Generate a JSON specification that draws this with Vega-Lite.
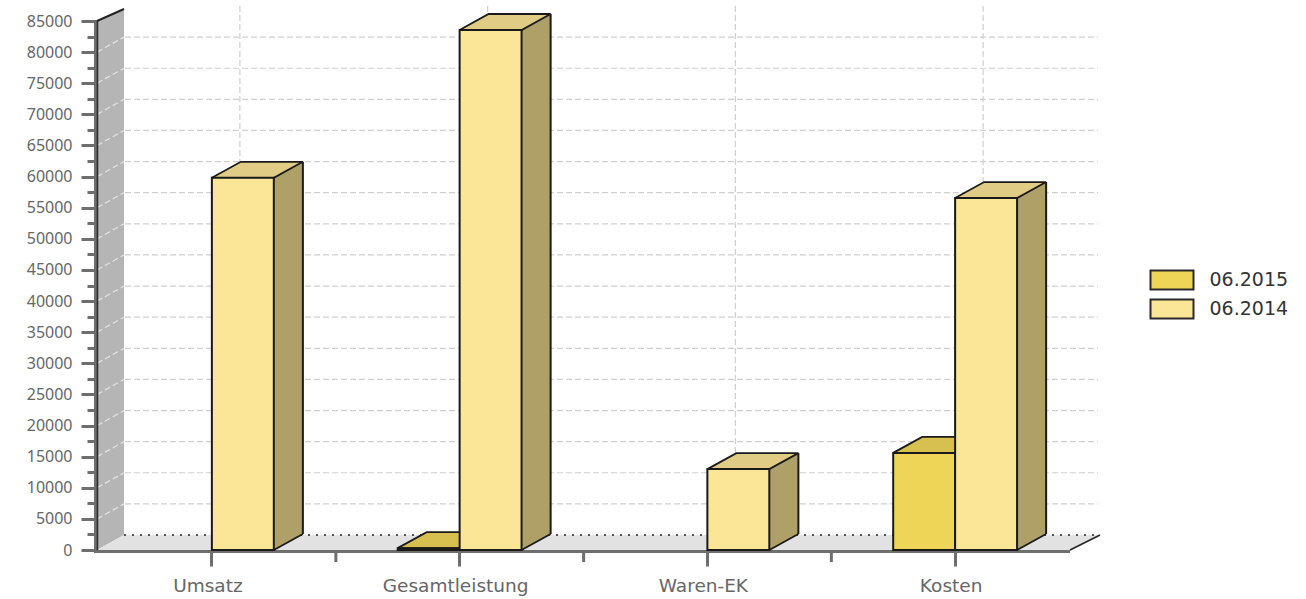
{
"$schema":"https://vega.github.io/schema/vega-lite/v6.json",
"width":973,"height":529,
"autosize":{"type":"none"},
"padding":{"left":97,"top":21,"right":236,"bottom":49},
"background":"white",
"config":{"view":{"stroke":null}},
"data":{"values":[
{"category":"Umsatz","series":"06.2014","value":59800},
{"category":"Gesamtleistung","series":"06.2015","value":300},
{"category":"Gesamtleistung","series":"06.2014","value":83550},
{"category":"Waren-EK","series":"06.2014","value":13000},
{"category":"Kosten","series":"06.2015","value":15600},
{"category":"Kosten","series":"06.2014","value":56550}
]},
"resolve":{"scale":{"fill":"independent"}},
"encoding":{
"x":{"field":"category","type":"nominal","sort":null,"title":null,
"scale":{"domain":["Umsatz","Gesamtleistung","Waren-EK","Kosten"],"range":[-9,982],"paddingInner":0,"paddingOuter":0},
"axis":{"title":null,"domain":false,"tickBand":"center","tickColor":"#6e6e6e","tickWidth":3,"tickSize":16,"labelFont":"DejaVu Sans","labelFontSize":18.5,"labelColor":"#666666","labelPadding":10,"labelOffset":-4,"labelAngle":0,"grid":false}},
"y":{"field":"value","type":"quantitative","title":null,"scale":{"domain":[0,85000],"nice":false,"zero":true},
"axis":{"title":null,"domain":false,"grid":false,"values":[0,2500,5000,7500,10000,12500,15000,17500,20000,22500,25000,27500,30000,32500,35000,37500,40000,42500,45000,47500,50000,52500,55000,57500,60000,62500,65000,67500,70000,72500,75000,77500,80000,82500,85000],
  "tickColor":"#6e6e6e","tickWidth":3,"tickSize":{"condition":{"test":"datum.value % 5000 === 0","value":16},"value":10},
  "labelExpr":"datum.value % 5000 === 0 ? replace(datum.label, ',', '') : ''","labelFont":"Noto Sans","labelFontSize":16,"labelColor":"#666666","labelPadding":9,"labelOverlap":false,"labelBound":false,"labelFlush":false}}
},
"layer":[
{"data":{"values":[{"k":0}]},
 "mark":{"type":"point","shape":"M0,0L27,-15V-541L0,-529Z","size":4,"filled":true,"fill":"#b5b5b5","strokeWidth":0,"opacity":1},
 "encoding":{"x":{"value":0},"y":{"field":"k","type":"quantitative"}}},
{"data":{"values":[{"k":0}]},
 "mark":{"type":"point","shape":"M0,0L27,-15H1003L973,0Z","size":4,"filled":true,"fill":"#e2e2e2","strokeWidth":0,"opacity":1},
 "encoding":{"x":{"value":0},"y":{"field":"k","type":"quantitative"}}},
{"data":{"values":[{"k":0}]},
 "mark":{"type":"point","shape":"M27,-15H1003","size":4,"filled":false,"stroke":"#222","strokeWidth":1.5,"strokeDash":[2,6],"opacity":1},
 "encoding":{"x":{"value":0},"y":{"field":"k","type":"quantitative"}}},
{"data":{"values":[{"k":0}]},
 "mark":{"type":"point","shape":"M1003,-15L973,0","size":4,"filled":false,"stroke":"#222","strokeWidth":1.5,"opacity":1},
 "encoding":{"x":{"value":0},"y":{"field":"k","type":"quantitative"}}},
{"data":{"values":[{"k":0}]},
 "mark":{"type":"point","shape":"M0,-529L27,-541","size":4,"filled":false,"stroke":"#222","strokeWidth":2,"opacity":1},
 "encoding":{"x":{"value":0},"y":{"field":"k","type":"quantitative"}}},
{"data":{"values":[{"t":5000},{"t":10000},{"t":15000},{"t":20000},{"t":25000},{"t":30000},{"t":35000},{"t":40000},{"t":45000},{"t":50000},{"t":55000},{"t":60000},{"t":65000},{"t":70000},{"t":75000},{"t":80000}]},
 "mark":{"type":"rule","color":"#cfcfcf","strokeWidth":1.2,"strokeDash":[6,3],"xOffset":28,"x2Offset":28,"yOffset":-15},
 "encoding":{"x":{"value":0},"x2":{"value":973},"y":{"field":"t","type":"quantitative"}}},
{"data":{"values":[{"t":5000},{"t":10000},{"t":15000},{"t":20000},{"t":25000},{"t":30000},{"t":35000},{"t":40000},{"t":45000},{"t":50000},{"t":55000},{"t":60000},{"t":65000},{"t":70000},{"t":75000},{"t":80000}]},
 "mark":{"type":"point","shape":"M0,0L27,-15","size":4,"filled":false,"stroke":"#e4e4e4","strokeWidth":1.2,"strokeDash":[6,3],"opacity":1},
 "encoding":{"x":{"value":0},"y":{"field":"t","type":"quantitative"}}},
{"data":{"values":[{"category":"Umsatz"},{"category":"Gesamtleistung"},{"category":"Waren-EK"},{"category":"Kosten"}]},
 "mark":{"type":"rule","color":"#cfcfcf","strokeWidth":1.2,"strokeDash":[6,3],"xOffset":28,"yOffset":-15,"y2Offset":-15},
 "encoding":{"y":{"value":0},"y2":{"value":529}}},
{"data":{"values":[{"k":0}]},
 "mark":{"type":"point","shape":"M-1.5,1V-529","size":4,"filled":false,"stroke":"#6e6e6e","strokeWidth":3,"opacity":1},
 "encoding":{"x":{"value":0},"y":{"field":"k","type":"quantitative"}}},
{"data":{"values":[{"k":0}]},
 "mark":{"type":"point","shape":"M0.5,0V-529","size":4,"filled":false,"stroke":"#2a2a2a","strokeWidth":1.5,"opacity":1},
 "encoding":{"x":{"value":0},"y":{"field":"k","type":"quantitative"}}},
{"data":{"values":[{"k":0}]},
 "mark":{"type":"point","shape":"M-3,1.5H973","size":4,"filled":false,"stroke":"#6e6e6e","strokeWidth":3,"opacity":1},
 "encoding":{"x":{"value":0},"y":{"field":"k","type":"quantitative"}}},
{"data":{"values":[{"category":"Umsatz","k":0},{"category":"Gesamtleistung","k":0},{"category":"Waren-EK","k":0}]},
 "mark":{"type":"point","shape":"M124,1V12","size":4,"filled":false,"stroke":"#6e6e6e","strokeWidth":3,"opacity":1},
 "encoding":{"y":{"field":"k","type":"quantitative"}}},

{"transform":[{"filter":"datum.series === '06.2015'"}],
 "mark":{"type":"rule","color":"#a8953c","strokeWidth":29,"strokeCap":"butt","xOffset":14.5,"yOffset":-16,"y2Offset":-16},
 "encoding":{"y2":{"datum":0}}},
{"transform":[{"filter":"datum.series === '06.2014'"}],
 "mark":{"type":"rule","color":"#afa068","strokeWidth":29,"strokeCap":"butt","xOffset":76.5,"yOffset":-16,"y2Offset":-16},
 "encoding":{"y2":{"datum":0}}},
{"transform":[{"filter":"datum.series === '06.2015'"}],
 "mark":{"type":"rule","color":"#1a1a1a","strokeWidth":2,"xOffset":29,"yOffset":-16,"y2Offset":-16},
 "encoding":{"y2":{"datum":0}}},
{"transform":[{"filter":"datum.series === '06.2014'"}],
 "mark":{"type":"rule","color":"#1a1a1a","strokeWidth":2,"xOffset":91,"yOffset":-16,"y2Offset":-16},
 "encoding":{"y2":{"datum":0}}},
{"mark":{"type":"point","shape":"M31,0L60,-16H31Z","size":4,"filled":true,"strokeWidth":0,"opacity":1},
 "encoding":{"xOffset":{"field":"series","type":"nominal","scale":{"domain":["06.2015","06.2014"],"paddingInner":0,"paddingOuter":1}},
 "y":{"datum":0,"type":"quantitative"},
 "fill":{"field":"series","type":"nominal","legend":null,"scale":{"domain":["06.2015","06.2014"],"range":["#a8953c","#afa068"]}}}},
{"mark":{"type":"point","shape":"M31,0L60,-16","size":4,"filled":false,"stroke":"#1a1a1a","strokeWidth":1.8,"opacity":1},
 "encoding":{"xOffset":{"field":"series","type":"nominal","scale":{"domain":["06.2015","06.2014"],"paddingInner":0,"paddingOuter":1}},
 "y":{"datum":0,"type":"quantitative"}}},
{"mark":{"type":"point","shape":"M-31,0L-2,-16H60L31,0Z","size":4,"filled":true,"stroke":"#1a1a1a","strokeWidth":1.8,"opacity":1},
 "encoding":{"xOffset":{"field":"series","type":"nominal","scale":{"domain":["06.2015","06.2014"],"paddingInner":0,"paddingOuter":1}},
 "fill":{"field":"series","type":"nominal","legend":null,"scale":{"domain":["06.2015","06.2014"],"range":["#d8c050","#e0cc85"]}}}},
{"mark":{"type":"bar","stroke":"#1a1a1a","strokeWidth":2},
 "encoding":{"xOffset":{"field":"series","type":"nominal","scale":{"domain":["06.2015","06.2014"],"paddingInner":0,"paddingOuter":1}},
 "color":{"field":"series","type":"nominal","scale":{"domain":["06.2015","06.2014"],"range":["#efd557","#fbe596"]},
  "legend":{"title":null,"orient":"none","legendX":1065.5,"legendY":249.5,"symbolType":"M-21.5,-9.5H21.5V9.5H-21.5Z","symbolSize":4,"symbolStrokeColor":"#2a2a2a","symbolStrokeWidth":2,"labelOffset":28,"labelFont":"DejaVu Sans","labelFontSize":19,"labelColor":"#333333","rowPadding":2,"symbolOpacity":1}}}}
]
}
